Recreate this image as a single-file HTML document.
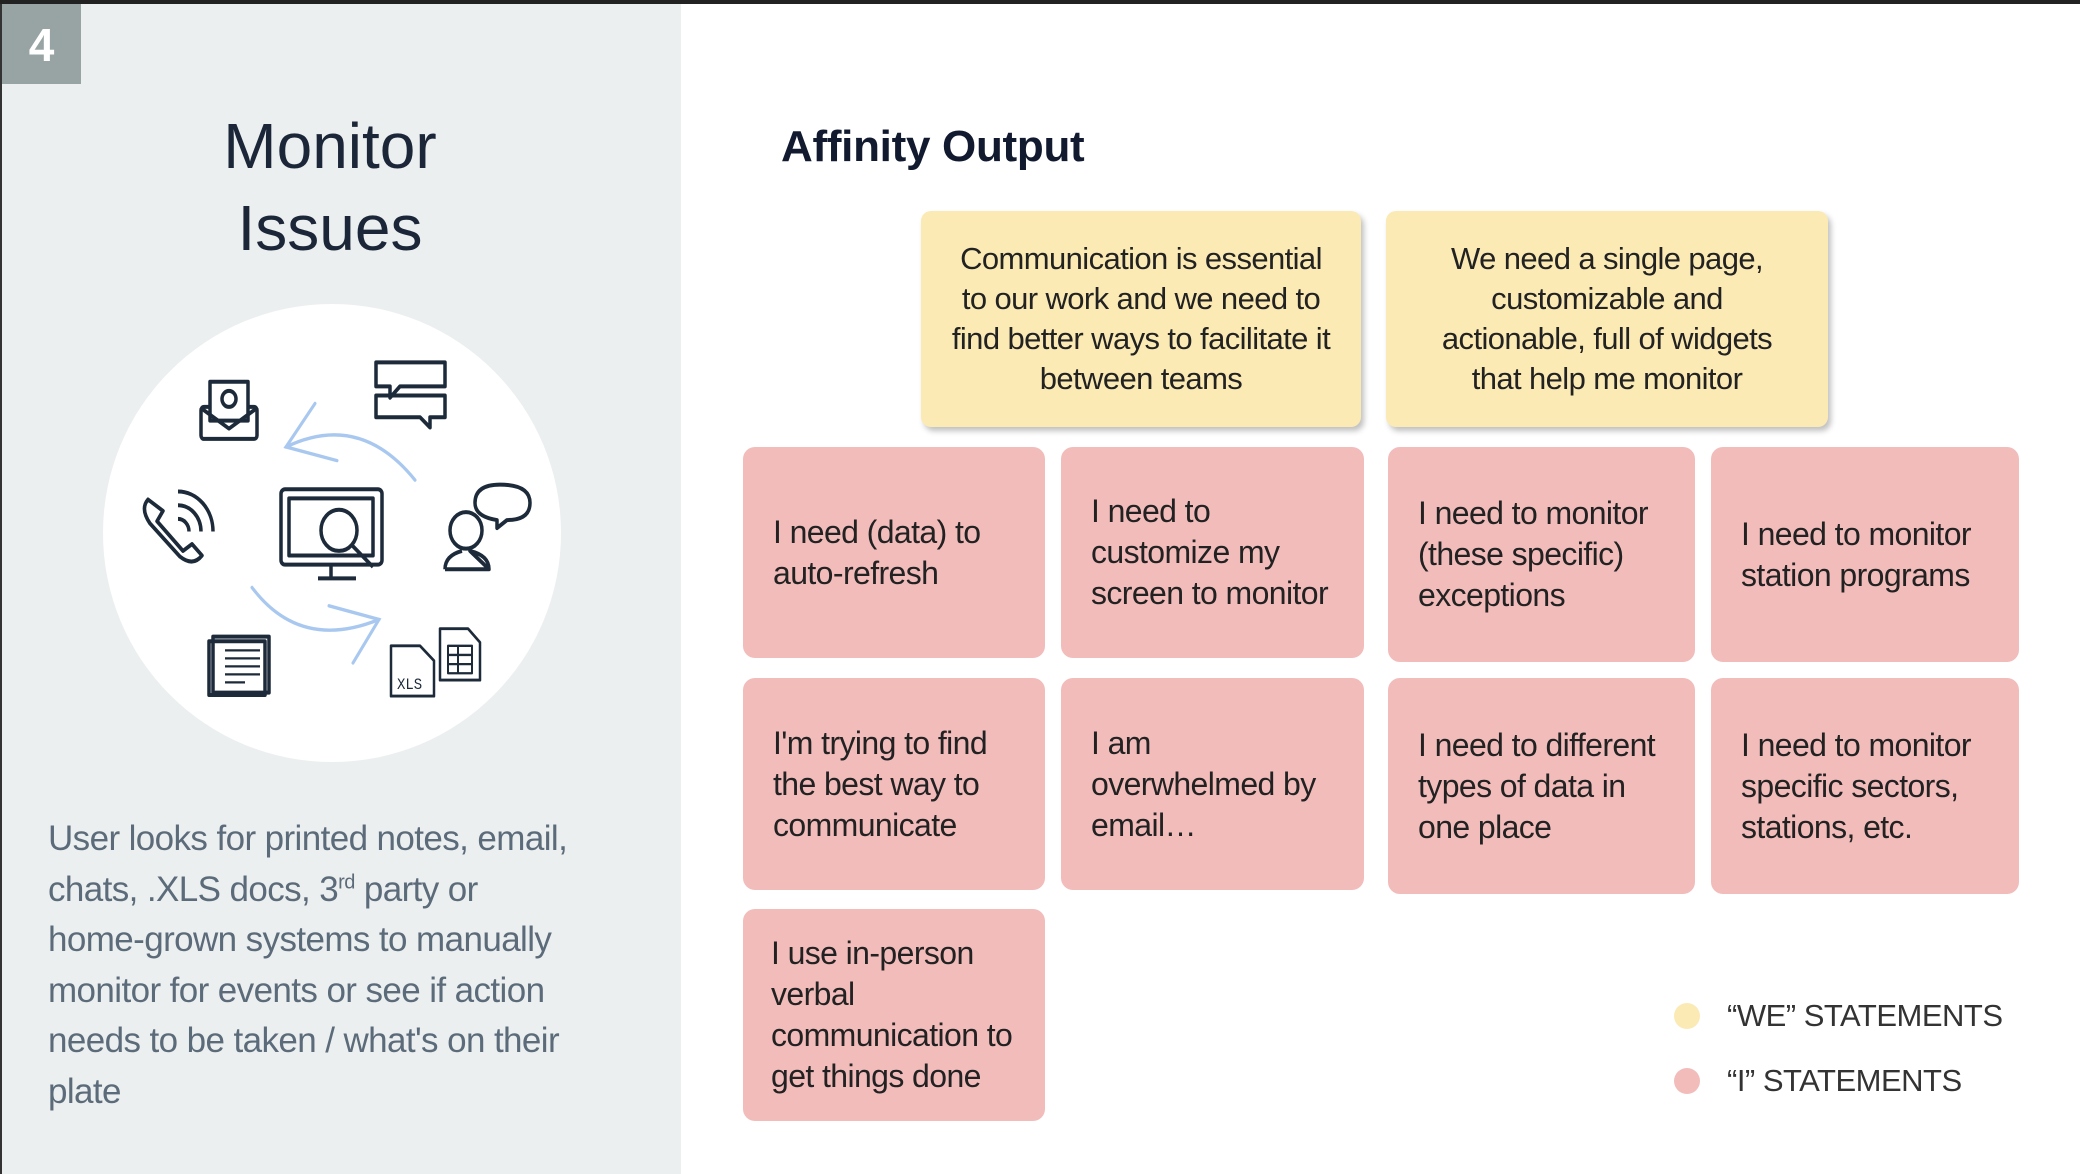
<!DOCTYPE html>
<html><head><meta charset="utf-8"><style>
html,body{margin:0;padding:0;}
body{width:2080px;height:1174px;position:relative;overflow:hidden;background:#fff;font-family:"Liberation Sans",sans-serif;}
.top{position:absolute;left:0;top:0;width:2080px;height:4px;background:#222;}
.lp{position:absolute;left:0;top:4px;width:681px;height:1170px;background:#eceff0;border-left:2px solid #333;box-sizing:border-box;}
.badge{position:absolute;left:2px;top:4px;width:79px;height:80px;background:#98a3a3;color:#fff;font-weight:bold;font-size:46px;text-align:center;line-height:82px;}
.title{position:absolute;left:0;width:660px;text-align:center;color:#1b2638;font-size:64px;line-height:82px;top:105px;}
.desc{position:absolute;left:48px;top:814px;width:630px;color:#5c6b7a;font-size:35px;line-height:50.5px;letter-spacing:-0.6px;white-space:nowrap;}
.h{position:absolute;left:781px;top:122px;font-size:44px;font-weight:bold;color:#111a2e;letter-spacing:-0.3px;}
.card{position:absolute;display:flex;align-items:center;box-sizing:border-box;color:#222;letter-spacing:-0.6px;white-space:nowrap;}
.y{background:#fbeab4;border-radius:10px;box-shadow:3px 4px 6px rgba(0,0,0,.25);justify-content:center;text-align:center;font-size:31px;line-height:40px;padding:0 10px;}
.p{background:#f2bcbb;border-radius:12px;font-size:32px;line-height:41px;padding:0 10px 0 30px;}
.leg{position:absolute;font-size:31px;color:#333;letter-spacing:-0.5px;}
.dot{position:absolute;width:26px;height:26px;border-radius:50%;}
</style></head><body>
<div class="top"></div>
<div class="lp"></div>
<div class="badge">4</div>
<div class="title">Monitor<br>Issues</div>
<svg style="position:absolute;left:0;top:0" width="681" height="800">
<circle cx="332" cy="533" r="229" fill="#fff"/>
<g transform="matrix(1,0,0,1.143,0,0)">
<g fill="none" stroke="#a9c8f0" stroke-width="3" stroke-linecap="round">
<path d="M415 420 Q360 360 286 391"/><path d="M315 353 L286 391 L337 403"/>
<path d="M252 514 Q300 570 379 542"/><path d="M329 530 L379 542 L353 580"/>
</g>
<g fill="none" stroke="#1c2a3a" stroke-width="3.5" stroke-linejoin="round">
<rect x="201" y="356" width="56" height="28" rx="3"/><rect x="210" y="334" width="38" height="34" fill="#fff"/>
<path d="M201 357 L229 375 L257 357"/><circle cx="229" cy="349" r="7"/>
<path d="M376 317 H445 V338 H400 L390 348 V338 H376 Z"/><path d="M376 346 H445 V365 H430 V374 L420 365 H376 Z"/>
<path d="M148 437 Q140 445 150 458 L180 487 Q193 496 202 486 L192 476 L183 482 L157 456 L163 447 Z"/>
<path d="M178 430 A35 35 0 0 1 213 465 M178 442 A23 23 0 0 1 201 465 M178 454 A11 11 0 0 1 189 465"/>
<rect x="281" y="428" width="101" height="66" rx="4"/><rect x="289" y="436" width="84" height="50"/>
<circle cx="339" cy="464" r="18" fill="#fff"/><path d="M352 477 L373 496"/>
<path d="M331 494 V505 M318 506 H356"/>
<circle cx="466" cy="464" r="16"/><path d="M445 498 Q445 486 462 482 M470 482 Q489 486 489 498 Z M445 498 H489"/>
<path d="M475 440 Q475 424 500 424 Q530 424 530 440 Q530 455 507 455 L497 462 V455 Q475 452 475 440Z"/>
<rect x="213" y="557" width="56" height="49" fill="#fff"/><rect x="209" y="561" width="56" height="47"/>
<path d="M225 569 H260 M225 576 H260 M225 583 H260 M225 590 H260 M225 597 H245" stroke-width="2"/>
<path d="M391 565 H420 L434 578 V609 H391 Z" stroke-width="2.5"/><path d="M440 550 H468 L480 562 V595 H440 Z" stroke-width="2.5"/>
<path d="M448 565 H472 V589 H448 Z M448 573 H472 M448 581 H472 M458 565 V589" stroke-width="2"/>
</g>
<text x="397" y="603" font-size="14" fill="#1c2a3a" font-family="Liberation Mono">XLS</text>
</g>
</svg>
<div class="desc">User looks for printed notes, email,<br>chats, .XLS docs, 3<sup style="font-size:20px;line-height:0">rd</sup> party or<br>home-grown systems to manually<br>monitor for events or see if action<br>needs to be taken / what's on their<br>plate</div>
<div class="h">Affinity Output</div>
<div class="card y" style="left:921px;top:211px;width:440px;height:216px">Communication is essential<br>to our work and we need to<br>find better ways to facilitate it<br>between teams</div>
<div class="card y" style="left:1386px;top:211px;width:442px;height:216px">We need a single page,<br>customizable and<br>actionable, full of widgets<br>that help me monitor</div>
<div class="card p" style="left:743px;top:447px;width:302px;height:211px">I need (data) to<br>auto-refresh</div>
<div class="card p" style="left:1061px;top:447px;width:303px;height:211px">I need to<br>customize my<br>screen to monitor</div>
<div class="card p" style="left:1388px;top:447px;width:307px;height:215px">I need to monitor<br>(these specific)<br>exceptions</div>
<div class="card p" style="left:1711px;top:447px;width:308px;height:215px">I need to monitor<br>station programs</div>
<div class="card p" style="left:743px;top:678px;width:302px;height:212px">I'm trying to find<br>the best way to<br>communicate</div>
<div class="card p" style="left:1061px;top:678px;width:303px;height:212px">I am<br>overwhelmed by<br>email…</div>
<div class="card p" style="left:1388px;top:678px;width:307px;height:216px">I need to different<br>types of data in<br>one place</div>
<div class="card p" style="left:1711px;top:678px;width:308px;height:216px">I need to monitor<br>specific sectors,<br>stations, etc.</div>
<div class="card p" style="left:743px;top:909px;width:302px;height:212px;padding-left:28px">I use in-person<br>verbal<br>communication to<br>get things done</div>
<div class="dot" style="left:1674px;top:1003px;background:#fbeab4"></div>
<div class="dot" style="left:1674px;top:1068px;background:#f2bcbb"></div>
<div class="leg" style="left:1727px;top:998px">“WE” STATEMENTS</div>
<div class="leg" style="left:1727px;top:1063px">“I” STATEMENTS</div>
</body></html>
